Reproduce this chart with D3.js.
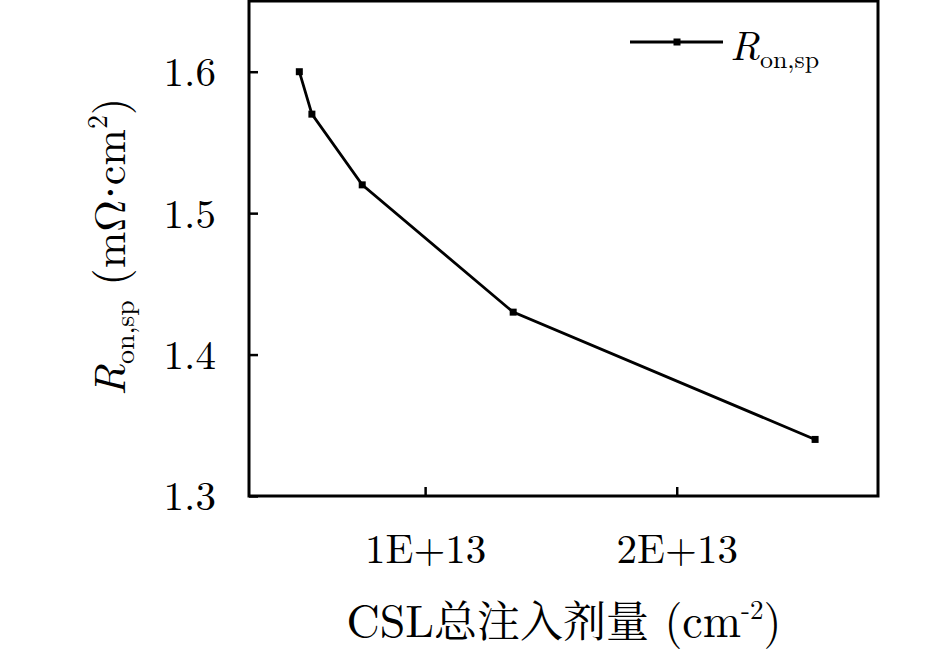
<!DOCTYPE html>
<html>
<head>
<meta charset="utf-8">
<script src="https://cdn.jsdelivr.net/npm/d3@7"></script>
<style>
  body { margin: 0; background: #fff; }
  svg text { font-family: "Latin Modern Roman", "Liberation Serif", serif; fill: #000; }
</style>
</head>
<body>
<div id="chart"></div>
<script>
// CSL total implant dose (cm^-2) vs specific on-resistance (mOhm*cm^2)
const doses = [0.5e13, 0.55e13, 0.75e13, 1.35e13, 2.55e13];
const ronsp = [1.60, 1.57, 1.52, 1.43, 1.34];
const xTicks = [1e13, 2e13];
const xTickLabels = ["1E+13", "2E+13"];
const yTicks = [1.3, 1.4, 1.5, 1.6];

const W = 945, H = 650;
const margin = { top: 1, right: 67, bottom: 154, left: 249 },
    width = W - margin.left - margin.right,
    height = H - margin.top - margin.bottom;

const svg = d3.select("#chart").append("svg")
    .attr("width", W)
    .attr("height", H);

const g = svg.append("g")
    .attr("transform", "translate(" + margin.left + "," + margin.top + ")");

const x = d3.scaleLinear().domain([0.3e13, 2.8e13]).range([0, width]);
const y = d3.scaleLinear().domain([1.3, 1.65]).range([height, 0]);

// frame around the plot
g.append("rect")
    .attr("width", width).attr("height", height)
    .attr("fill", "none").attr("stroke", "#000").attr("stroke-width", 3);

// x axis, ticks pointing inward
const xAxis = g.append("g")
    .attr("transform", "translate(0," + height + ")")
    .call(d3.axisBottom(x).tickValues(xTicks).tickSize(-9)
        .tickFormat((d, i) => xTickLabels[i]));
xAxis.attr("font-family", null);
xAxis.select(".domain").remove();
xAxis.selectAll("line").attr("stroke-width", 2.5);
xAxis.selectAll("text")
    .attr("y", 67)
    .attr("dy", null)
    .style("font-size", "41px");

// y axis, ticks pointing inward
const yAxis = g.append("g")
    .call(d3.axisLeft(y).tickValues(yTicks).tickSize(-9).tickFormat(d3.format(".1f")));
yAxis.attr("font-family", null);
yAxis.select(".domain").remove();
yAxis.selectAll("line").attr("stroke-width", 2.5);
yAxis.selectAll("text")
    .attr("x", -33)
    .attr("dy", "0.34em")
    .style("font-size", "41px");

// series line with square markers
const data = doses.map((d, i) => ({ dose: d, r: ronsp[i] }));

g.append("path")
    .datum(data)
    .attr("fill", "none")
    .attr("stroke", "#000")
    .attr("stroke-width", 2.8)
    .attr("d", d3.line().x(d => x(d.dose)).y(d => y(d.r)));

g.selectAll(".pt")
    .data(data)
    .enter().append("rect")
    .attr("class", "pt")
    .attr("x", d => x(d.dose) - 3.5)
    .attr("y", d => y(d.r) - 3.5)
    .attr("width", 7).attr("height", 7)
    .attr("fill", "#000");

// legend
const lg = svg.append("g").attr("transform", "translate(630,42)");
lg.append("line").attr("x1", 0).attr("x2", 93)
    .attr("stroke", "#000").attr("stroke-width", 2.8);
lg.append("rect").attr("x", 43.5).attr("y", -3.5).attr("width", 7).attr("height", 7).attr("fill", "#000");
const lt = lg.append("text").attr("x", 100).attr("y", 18).style("font-size", "41px");
lt.append("tspan").style("font-style", "italic").text("R");
lt.append("tspan").attr("dy", 8).style("font-size", "26px").text("on,sp");

// x axis title
const xt = svg.append("text")
    .attr("x", 564).attr("y", 637)
    .attr("text-anchor", "middle")
    .style("font-size", "46px");
xt.append("tspan").text("CSL");
xt.append("tspan").style("font-family", "'Noto Serif CJK SC', serif").style("font-size", "43px").text("总注入剂量");
xt.append("tspan").text(" (cm");
xt.append("tspan").attr("dy", -18).style("font-size", "27px").text("-2");
xt.append("tspan").attr("dy", 18).text(")");

// y axis title
const yt = svg.append("text")
    .attr("transform", "translate(125,247) rotate(-90)")
    .attr("text-anchor", "middle")
    .style("font-size", "44px");
yt.append("tspan").style("font-style", "italic").text("R");
yt.append("tspan").attr("dy", 9).style("font-size", "28px").text("on,sp");
yt.append("tspan").attr("dy", -9).text(" (m\u03A9");
yt.append("tspan").style("font-family", "'Liberation Serif', serif").text("\u00B7");
yt.append("tspan").text("cm");
yt.append("tspan").attr("dy", -18).style("font-size", "28px").text("2");
yt.append("tspan").attr("dy", 18).text(")");
</script>
</body>
</html>
